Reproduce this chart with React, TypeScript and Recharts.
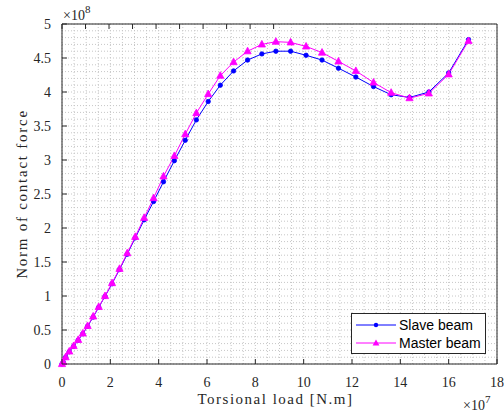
import React from 'react';
import { LineChart, Line, XAxis, YAxis, CartesianGrid, Legend, Label } from 'recharts';

// Torsional load (x 1e7 N.m)
const torsionalLoad = [
  0, 0.05, 0.15, 0.3, 0.48, 0.67, 0.86, 1.06, 1.29, 1.52,
  1.78, 2.07, 2.38, 2.7, 3.03, 3.4, 3.79, 4.2, 4.65, 5.1,
  5.56, 6.05, 6.55, 7.1, 7.68, 8.27, 8.85, 9.46, 10.1, 10.76,
  11.44, 12.16, 12.89, 13.62, 14.38, 15.18, 16.0, 16.82,
];
// Norm of contact force (x 1e8)
const slaveBeam = [
  0, 0.03, 0.1, 0.18, 0.26, 0.35, 0.445, 0.555, 0.69, 0.835,
  0.995, 1.18, 1.39, 1.615, 1.855, 2.12, 2.39, 2.68, 2.99, 3.29,
  3.59, 3.86, 4.1, 4.31, 4.47, 4.56, 4.6, 4.6, 4.54, 4.47,
  4.35, 4.22, 4.08, 3.96, 3.92, 4.0, 4.28, 4.77,
];
const masterBeam = [
  0, 0.03, 0.1, 0.185, 0.265, 0.355, 0.45, 0.56, 0.7, 0.84,
  1.0, 1.19, 1.4, 1.63, 1.87, 2.15, 2.44, 2.76, 3.06, 3.38,
  3.69, 3.97, 4.24, 4.44, 4.6, 4.7, 4.74, 4.73, 4.67, 4.58,
  4.45, 4.31, 4.14, 3.99, 3.91, 3.98, 4.26, 4.75,
];

const xTicks = [0, 2, 4, 6, 8, 10, 12, 14, 16, 18];
const yTicks = [0, 0.5, 1, 1.5, 2, 2.5, 3, 3.5, 4, 4.5, 5];
const xMinor = Array.from({ length: 37 }, (_, i) => i / 2);
const yMinor = Array.from({ length: 51 }, (_, i) => i / 10);

const seriesNames = ['Slave beam', 'Master beam'];

const data = torsionalLoad.map((x, i) => ({ load: x, slave: slaveBeam[i], master: masterBeam[i] }));

const AXIS = '#262626';
const SERIF = 'Liberation Serif, Times New Roman, serif';
const SANS = 'Liberation Sans, Arial, sans-serif';
const BLUE = '#0000ff';
const MAGENTA = '#ff00ff';
const TICK_LEN = 5;
const X_MARGIN = 13;
const Y_MARGIN = 11;

const TriangleDot = (props: any) => {
  const { cx, cy, index } = props;
  if (cx == null || cy == null) return <g key={`t${index}`} />;
  return (
    <polygon
      key={`t${index}`}
      points={`${cx},${cy - 4} ${cx - 3.6},${cy + 2.6} ${cx + 3.6},${cy + 2.6}`}
      fill={MAGENTA}
      stroke={MAGENTA}
      strokeWidth={0.8}
    />
  );
};

const BottomTick = (props: any) => {
  const { x, y, payload } = props;
  const axisY = y - X_MARGIN;
  return (
    <g>
      <line x1={x} y1={axisY} x2={x} y2={axisY - TICK_LEN} stroke={AXIS} strokeWidth={1} />
      <text x={x} y={y} dy="0.71em" textAnchor="middle" fontFamily={SERIF} fontSize={14} fill={AXIS}>
        {payload.value}
      </text>
    </g>
  );
};

const LeftTick = (props: any) => {
  const { x, y, payload } = props;
  const axisX = x + Y_MARGIN;
  return (
    <g>
      <line x1={axisX} y1={y} x2={axisX + TICK_LEN} y2={y} stroke={AXIS} strokeWidth={1} />
      <text x={x} y={y} dy="0.355em" textAnchor="end" fontFamily={SERIF} fontSize={14} fill={AXIS}>
        {payload.value}
      </text>
    </g>
  );
};

const TopTick = (props: any) => {
  const { x, y } = props;
  return <line x1={x} y1={y} x2={x} y2={y + TICK_LEN} stroke={AXIS} strokeWidth={1} />;
};

const RightTick = (props: any) => {
  const { x, y } = props;
  return <line x1={x} y1={y} x2={x - TICK_LEN} y2={y} stroke={AXIS} strokeWidth={1} />;
};

const XTitle = (props: any) => {
  const vb = props.viewBox || { x: 62, y: 364, width: 435, height: 53 };
  return (
    <g>
      <text
        x={vb.x + vb.width / 2 - 4}
        y={vb.y + 40}
        textAnchor="middle"
        fontFamily={SERIF}
        fontSize={15}
        letterSpacing={1.5}
        fill={AXIS}
      >
        Torsional load [N.m]
      </text>
      <text x={vb.x + vb.width - 34} y={vb.y + 46} fontFamily={SERIF} fontSize={14} fill={AXIS}>
        ×10<tspan dy={-7} fontSize={11}>7</tspan>
      </text>
    </g>
  );
};

const TopExp = (props: any) => {
  const vb = props.viewBox || { x: 62, y: 23, height: 1 };
  const axisY = vb.y + (vb.height || 0);
  return (
    <text x={vb.x + 1} y={axisY - 4} fontFamily={SERIF} fontSize={14} fill={AXIS}>
      ×10<tspan dy={-7} fontSize={11}>8</tspan>
    </text>
  );
};

const YTitle = (props: any) => {
  const vb = props.viewBox || { x: 0, y: 24, width: 62, height: 340 };
  const cy = vb.y + vb.height / 2;
  return (
    <text
      transform={`translate(27, ${cy}) rotate(-90)`}
      textAnchor="middle"
      fontFamily={SERIF}
      fontSize={15}
      letterSpacing={1.75}
      fill={AXIS}
    >
      Norm of contact force
    </text>
  );
};

const renderLegend = () => (
  <div
    style={{
      width: 135,
      height: 41,
      boxSizing: 'border-box',
      border: `1px solid ${AXIS}`,
      background: '#fff',
      fontFamily: SANS,
      fontSize: 14,
      color: '#000',
      paddingTop: 2,
      paddingLeft: 4,
    }}
  >
    {seriesNames.map((name, i) => (
      <div key={name} style={{ display: 'flex', alignItems: 'center', height: 18, lineHeight: '18px' }}>
        <svg width={40} height={10} style={{ display: 'block' }}>
          <line x1={0} y1={5} x2={40} y2={5} stroke={i === 0 ? BLUE : MAGENTA} strokeWidth={1} />
          {i === 0 ? (
            <circle cx={20} cy={5} r={2.2} fill={BLUE} />
          ) : (
            <polygon points="20,1.5 16.6,7.5 23.4,7.5" fill={MAGENTA} />
          )}
        </svg>
        <span style={{ marginLeft: 3 }}>{name}</span>
      </div>
    ))}
  </div>
);

export default function App() {
  return (
    <div style={{ position: 'absolute', left: 0, top: 0, background: '#fff' }}>
      <LineChart width={504} height={417} data={data} margin={{ top: 23, right: 6, bottom: 0, left: 0 }}>
        <CartesianGrid
          stroke="#c6c6c6"
          strokeDasharray="1 2"
          verticalValues={xMinor}
          horizontalValues={yMinor}
        />
        <XAxis
          dataKey="load"
          type="number"
          domain={[0, 18]}
          ticks={xTicks}
          interval={0}
          height={53}
          tickSize={0}
          tickLine={false}
          tickMargin={X_MARGIN}
          stroke={AXIS}
          tick={<BottomTick />}
        >
          <Label content={XTitle} />
        </XAxis>
        <XAxis
          xAxisId="top"
          orientation="top"
          type="number"
          domain={[0, 18]}
          ticks={xTicks}
          interval={0}
          height={1}
          tickSize={0}
          tickMargin={0}
          tickLine={false}
          tick={<TopTick />}
          stroke={AXIS}
        >
          <Label content={TopExp} />
        </XAxis>
        <YAxis
          type="number"
          domain={[0, 5]}
          ticks={yTicks}
          interval={0}
          width={62}
          tickSize={0}
          tickLine={false}
          tickMargin={Y_MARGIN}
          stroke={AXIS}
          tick={<LeftTick />}
        >
          <Label content={YTitle} />
        </YAxis>
        <YAxis
          yAxisId="right"
          orientation="right"
          type="number"
          domain={[0, 5]}
          ticks={yTicks}
          interval={0}
          width={1}
          tickSize={0}
          tickMargin={0}
          tickLine={false}
          tick={<RightTick />}
          stroke={AXIS}
        />
        <Legend
          layout="vertical"
          align="center"
          verticalAlign="middle"
          content={renderLegend}
          wrapperStyle={{ left: 351, top: 313, width: 135, height: 41 }}
        />
        <Line
          type="linear"
          dataKey="slave"
          name={seriesNames[0]}
          stroke={BLUE}
          strokeWidth={1}
          dot={{ r: 2.2, fill: BLUE, stroke: BLUE, strokeWidth: 0.8 }}
          isAnimationActive={false}
        />
        <Line
          type="linear"
          dataKey="master"
          name={seriesNames[1]}
          stroke={MAGENTA}
          strokeWidth={1}
          dot={TriangleDot}
          isAnimationActive={false}
        />
      </LineChart>
    </div>
  );
}
